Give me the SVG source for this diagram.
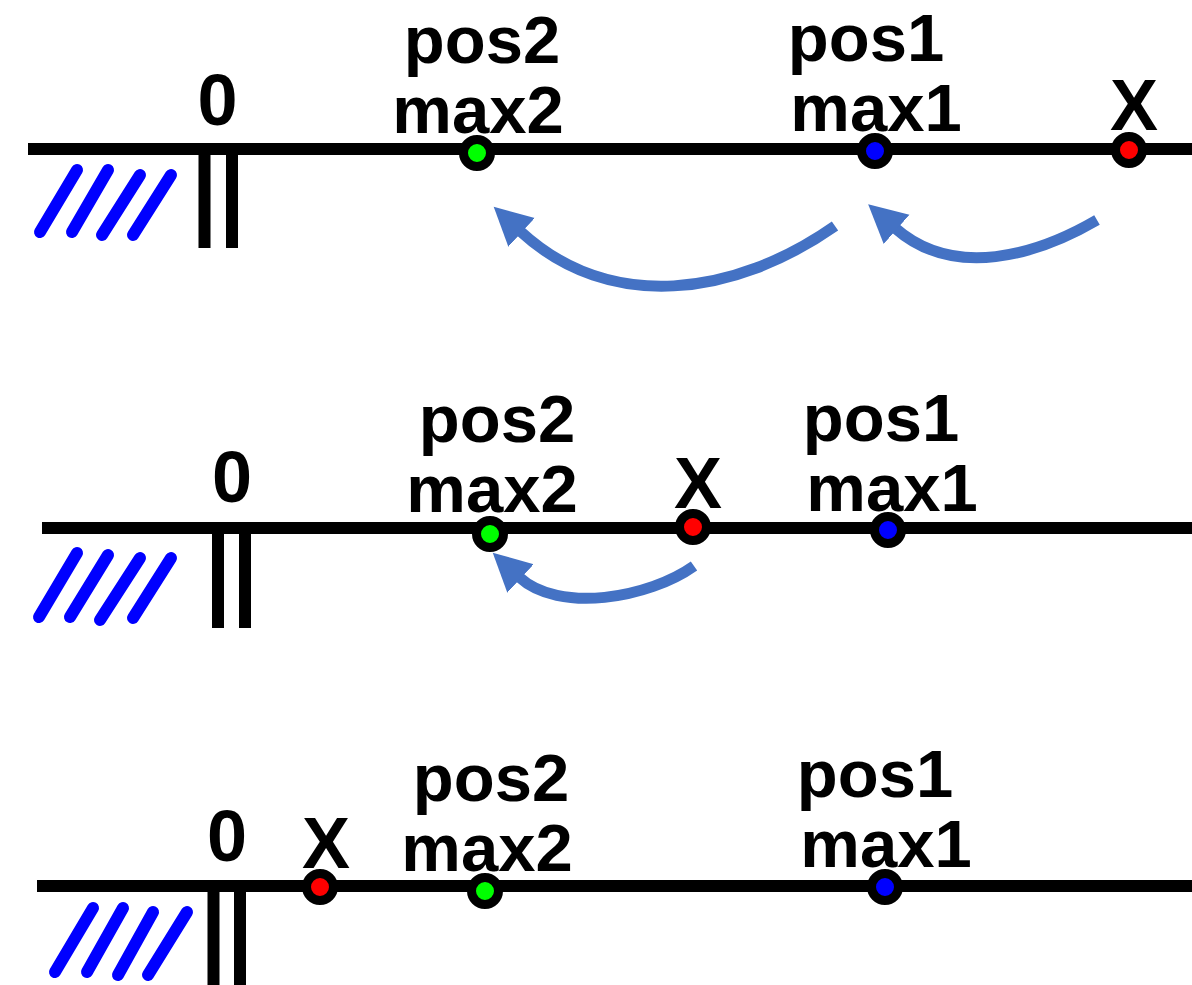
<svg xmlns="http://www.w3.org/2000/svg" width="1192" height="985" viewBox="0 0 1192 985">
<style>
.axis{stroke:#000;stroke-width:12;fill:none}
.stub{stroke:#000;stroke-width:12;fill:none}
.hatch{stroke:#0000FF;stroke-width:12;stroke-linecap:round;fill:none}
.lbl{font-family:"Liberation Sans",Arial,sans-serif;font-weight:bold;font-size:67px;fill:#000;text-anchor:middle}
.big{font-size:72px}
.dot{stroke:#000;stroke-width:9}
.arrow{stroke:#4472C4;stroke-width:11;fill:none;marker-end:url(#ah)}
</style>
<defs>
<marker id="ah" markerUnits="userSpaceOnUse" markerWidth="40" markerHeight="40" viewBox="-2 -19 38 38" refX="0" refY="0" orient="auto">
<path d="M-2,-18.5 L34,0 L-2,18.5 Z" fill="#4472C4"/>
</marker>
</defs>
<rect width="1192" height="985" fill="#fff"/>

<!-- Panel 1 -->
<g id="panel1-ground">
<line class="axis" x1="28" y1="149" x2="1192" y2="149"/>
<line class="stub" x1="204.5" y1="149" x2="204.5" y2="248"/>
<line class="stub" x1="232" y1="149" x2="232" y2="248"/>
<line class="hatch" x1="40" y1="232" x2="77" y2="170"/>
<line class="hatch" x1="72" y1="232" x2="108" y2="170"/>
<line class="hatch" x1="102" y1="235" x2="140" y2="175"/>
<line class="hatch" x1="133" y1="235" x2="171" y2="175"/>
<text class="lbl big" x="217.5" y="125">0</text>
</g>
<g id="p1-max2">
<text class="lbl" x="482" y="63">pos2</text>
<text class="lbl" x="478" y="133">max2</text>
<circle class="dot" cx="477" cy="153" r="13.5" fill="#00FF00"/>
</g>
<g id="p1-max1">
<text class="lbl" x="866" y="61">pos1</text>
<text class="lbl" x="876" y="131">max1</text>
<circle class="dot" cx="875" cy="151" r="13.5" fill="#0000FF"/>
</g>
<g id="p1-x">
<text class="lbl big" x="1134" y="130">X</text>
<circle class="dot" cx="1129" cy="150" r="13.5" fill="#FF0000"/>
</g>

<!-- Panel 2 -->
<g id="panel2-ground">
<line class="axis" x1="42" y1="528" x2="1192" y2="528"/>
<line class="stub" x1="218" y1="528" x2="218" y2="628"/>
<line class="stub" x1="245" y1="528" x2="245" y2="628"/>
<line class="hatch" x1="39" y1="617" x2="77" y2="553"/>
<line class="hatch" x1="70" y1="617" x2="108" y2="555"/>
<line class="hatch" x1="100" y1="620" x2="140" y2="558"/>
<line class="hatch" x1="133" y1="618" x2="171" y2="558"/>
<text class="lbl big" x="232" y="502">0</text>
</g>
<g id="p2-max2">
<text class="lbl" x="497" y="442">pos2</text>
<text class="lbl" x="492" y="512">max2</text>
<circle class="dot" cx="490" cy="534" r="13.5" fill="#00FF00"/>
</g>
<g id="p2-x">
<text class="lbl big" x="698" y="508">X</text>
<circle class="dot" cx="693" cy="527" r="13.5" fill="#FF0000"/>
</g>
<g id="p2-max1">
<text class="lbl" x="881" y="441">pos1</text>
<text class="lbl" x="892" y="511">max1</text>
<circle class="dot" cx="888" cy="530" r="13.5" fill="#0000FF"/>
</g>

<!-- Panel 3 -->
<g id="panel3-ground">
<line class="axis" x1="37" y1="886" x2="1192" y2="886"/>
<line class="stub" x1="213.5" y1="886" x2="213.5" y2="985"/>
<line class="stub" x1="240" y1="886" x2="240" y2="985"/>
<line class="hatch" x1="55" y1="972" x2="93" y2="908"/>
<line class="hatch" x1="87" y1="972" x2="123" y2="908"/>
<line class="hatch" x1="118" y1="975" x2="153" y2="912"/>
<line class="hatch" x1="148" y1="975" x2="187" y2="912"/>
<text class="lbl big" x="227" y="861">0</text>
</g>
<g id="p3-x">
<text class="lbl big" x="326" y="868">X</text>
<circle class="dot" cx="320" cy="887" r="13.5" fill="#FF0000"/>
</g>
<g id="p3-max2">
<text class="lbl" x="491" y="801">pos2</text>
<text class="lbl" x="487" y="871">max2</text>
<circle class="dot" cx="485" cy="891" r="13.5" fill="#00FF00"/>
</g>
<g id="p3-max1">
<text class="lbl" x="875" y="797">pos1</text>
<text class="lbl" x="886" y="867">max1</text>
<circle class="dot" cx="885" cy="887" r="13.5" fill="#0000FF"/>
</g>

<g id="connectors">
<path class="arrow" d="M835,226 C735,296 610,314 520,231"/>
<path class="arrow" d="M1097,220 C1037,255 954,280 895,228"/>
<path class="arrow" d="M694,566 C649,598 559,614 519,577"/>
</g>
</svg>
